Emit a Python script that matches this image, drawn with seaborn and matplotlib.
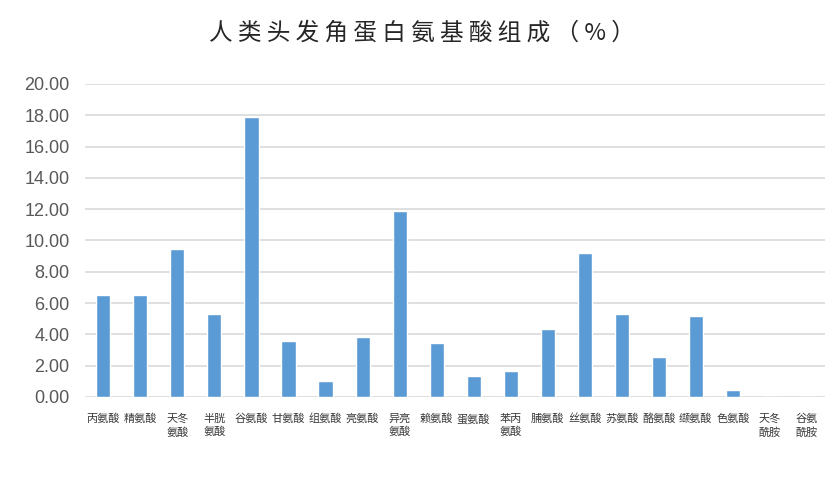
"""
Bar chart: amino acid composition of human hair keratin (%).
"""

import matplotlib

matplotlib.use("Agg")
import matplotlib.pyplot as plt
import pandas as pd
import seaborn as sns

TITLE = "人类头发角蛋白氨基酸组成（%）"

amino_acids = [
    "丙氨酸", "精氨酸", "天冬\n氨酸", "半胱\n氨酸", "谷氨酸",
    "甘氨酸", "组氨酸", "亮氨酸", "异亮\n氨酸", "赖氨酸",
    "蛋氨酸", "苯丙\n氨酸", "脯氨酸", "丝氨酸", "苏氨酸",
    "酪氨酸", "缬氨酸", "色氨酸", "天冬\n酰胺", "谷氨\n酰胺",
]
percent = [
    6.50, 6.50, 9.45, 5.30, 17.90,
    3.55, 1.05, 3.85, 11.88, 3.42,
    1.35, 1.63, 4.32, 9.20, 5.32,
    2.53, 5.20, 0.43, 0.00, 0.00,
]
y_ticks = [0, 2, 4, 6, 8, 10, 12, 14, 16, 18, 20]

BAR_COLOR = "#5B9BD5"
GRID_COLOR = "#D9D9D9"
TEXT_GRAY = "#595959"


def main() -> None:
    sns.set_theme(style="white")
    plt.rcParams["font.family"] = ["Noto Sans CJK SC", "DejaVu Sans"]

    df = pd.DataFrame({"amino_acid": amino_acids, "percent": percent})

    fig = plt.figure(figsize=(8.32, 4.8), dpi=100)
    ax = fig.add_axes([0.102, 0.173, 0.890, 0.652])

    sns.barplot(data=df, x="amino_acid", y="percent", color=BAR_COLOR,
                width=0.38, saturation=1, ax=ax, zorder=3)

    ax.set_ylim(0, 20)
    ax.set_xlim(-0.5, len(amino_acids) - 0.5)
    ax.set_yticks(y_ticks)
    ax.set_yticklabels([f"{v:.2f}" for v in y_ticks], family=["Liberation Sans", "DejaVu Sans"],
                       fontsize=13, color=TEXT_GRAY)
    ax.tick_params(axis="y", length=0, pad=11)
    ax.tick_params(axis="x", length=0, pad=12, labelsize=8, labelcolor="#3a3a3a")
    for lbl in ax.get_xticklabels():
        lbl.set_linespacing(1.35)

    ax.grid(axis="y", color=GRID_COLOR, linewidth=1.2, zorder=0)
    ax.set_axisbelow(True)
    for side in ["top", "right", "left", "bottom"]:
        ax.spines[side].set_visible(False)

    ax.set_xlabel("")
    ax.set_ylabel("")

    fig.text(0.507, 0.931, " ".join(TITLE), ha="center", va="center",
             fontsize=17, color="#262626")

    fig.savefig("out.png", dpi=100, facecolor="white")
    plt.close(fig)


if __name__ == "__main__":
    main()
